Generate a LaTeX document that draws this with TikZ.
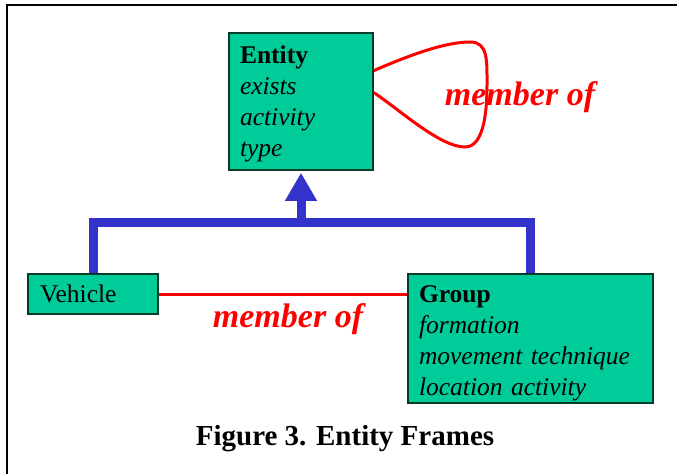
\documentclass[tikz,border=0pt]{standalone}
\usepackage{fontspec}
\setmainfont{Liberation Serif}
\usetikzlibrary{arrows.meta}
\definecolor{framegreen}{RGB}{0,204,153}
\definecolor{edgegreen}{RGB}{0,60,40}
\definecolor{isablue}{RGB}{51,51,204}
% bold frame title, with extra room above it
\newcommand{\framehead}[2]{\rule{0pt}{#1}\textbf{#2}}
\tikzset{
  frame/.style={draw=edgegreen, line width=1.5pt, fill=framegreen, align=left,
    inner xsep=11pt, inner ysep=0pt, font=\fontsize{25.5}{31}\selectfont},
  isa/.style={draw=isablue, line width=9pt, line join=miter},
  memberline/.style={draw=red, line width=3pt},
  memberlabel/.style={text=red, anchor=base, font=\fontsize{34}{40}\selectfont\bfseries\itshape}
}
\begin{document}
\begin{tikzpicture}[x=1pt,y=-1pt]
    \useasboundingbox (0,0) rectangle (677,474);
    \draw[line width=2pt] (7,474) -- (7,5) -- (677,5);
    % frames
    \node[frame, text width=122pt, minimum height=137pt] (entity) at (301,101.5)
        {\framehead{23pt}{Entity}\\\textit{exists}\\\textit{activity}\\\textit{type}};
    \node[frame, text width=106pt, inner xsep=12pt, minimum height=40pt] (vehicle) at (93,294)
        {Vehicle};
    \node[frame, text width=223pt, minimum height=129pt] (group) at (530.5,338.5)
        {\framehead{27pt}{Group}\\\textit{formation}\\\textit{movement technique}\\\textit{location activity}};
    % is-a tree
    \coordinate (bar) at (301,222);
    \draw[isa] (vehicle.north) -- (vehicle.north |- bar) -- (group.north |- bar) -- (group.north);
    \draw[isa, -{Triangle[width=30pt,length=28pt]}, shorten >=2pt] (bar) -- (entity.south);
    % member of
    \draw[memberline] (entity.23.6) .. controls (410,55) and (445,42) .. (470,42)
        .. controls (488,42) and (487,60) .. (487,85)
        .. controls (487,115) and (483,147) .. (465,147)
        .. controls (440,147) and (400,110) .. (entity.7.5);
    \node[memberlabel] (selflabel) at (520,105) {member of};
    \draw[memberline] (vehicle.east) -- (vehicle.east -| group.west);
    \node[memberlabel] (pairlabel) at (288,327) {member of};
    \node[anchor=base, font=\fontsize{29}{34}\selectfont\bfseries] (caption) at (345,445)
        {Figure 3. Entity Frames};
\end{tikzpicture}
\end{document}
